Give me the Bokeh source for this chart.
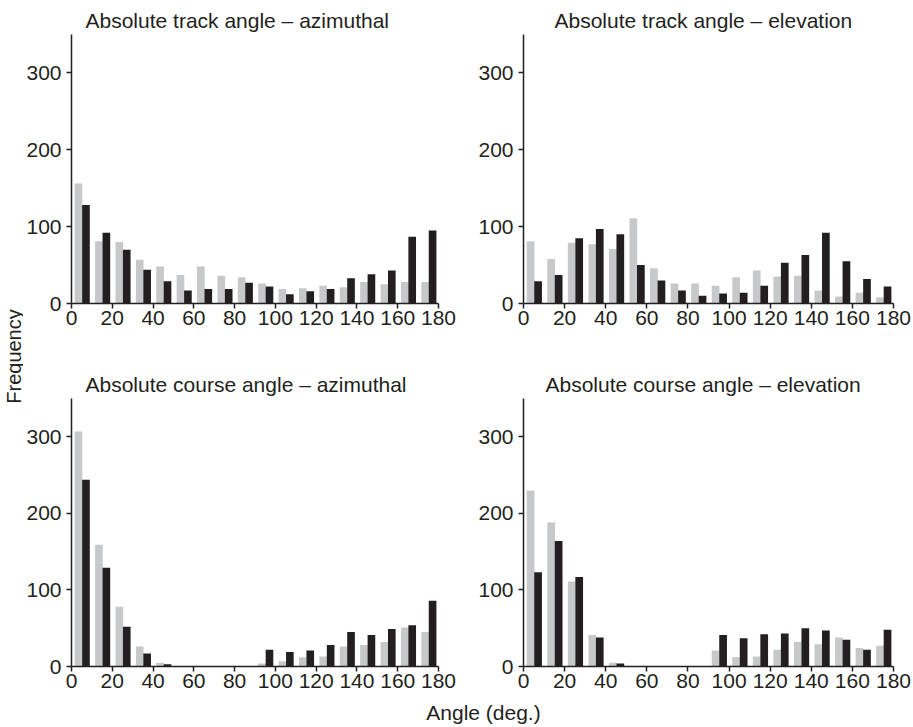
import math
from bokeh.plotting import figure
from bokeh.layouts import row, column
from bokeh.models import FixedTicker, Range1d
from bokeh.core.properties import value
from bokeh.embed import file_html
from bokeh.resources import INLINE

# ---------------- data ----------------
bin_left = [0, 10, 20, 30, 40, 50, 60, 70, 80, 90, 100, 110, 120, 130, 140, 150, 160, 170]
x_ticks = [0, 20, 40, 60, 80, 100, 120, 140, 160, 180]
y_ticks = [0, 100, 200, 300]

titles = [
    "Absolute track angle \u2013 azimuthal",
    "Absolute track angle \u2013 elevation",
    "Absolute course angle \u2013 azimuthal",
    "Absolute course angle \u2013 elevation",
]

track_az_light = [156, 81, 80, 57, 48, 37, 48, 36, 34, 26, 19, 20, 23, 21, 28, 25, 28, 28]
track_az_dark = [128, 92, 70, 44, 29, 17, 19, 19, 27, 22, 12, 16, 19, 33, 38, 43, 87, 95]

track_el_light = [81, 58, 79, 77, 71, 111, 46, 26, 26, 23, 34, 43, 35, 36, 17, 9, 14, 8]
track_el_dark = [29, 37, 85, 97, 90, 50, 30, 17, 10, 13, 14, 23, 53, 63, 92, 55, 32, 22]

course_az_light = [307, 159, 78, 26, 5, 0, 0, 0, 0, 4, 7, 12, 13, 26, 28, 32, 51, 45]
course_az_dark = [244, 129, 52, 17, 3, 0, 0, 0, 0, 22, 19, 21, 28, 45, 41, 49, 54, 86]

course_el_light = [230, 188, 111, 41, 5, 0, 0, 0, 0, 21, 12, 13, 22, 32, 29, 38, 24, 27]
course_el_dark = [123, 164, 117, 38, 4, 0, 0, 0, 0, 41, 37, 42, 43, 50, 47, 35, 22, 48]

# ---------------- style ----------------
GRAY = "#c7c8ca"
DARK = "#231f20"
FONT = "Liberation Sans"


def panel(title, light, dark, w, h, bl, br, bt, bb, offset):
    p = figure(width=w, height=h, x_range=Range1d(0, 180), y_range=Range1d(0, 350),
               output_backend="svg", toolbar_location=None,
               min_border_left=bl, min_border_right=br,
               min_border_top=bt, min_border_bottom=bb, title=title)
    p.vbar(x=[b + 3.45 for b in bin_left], width=3.75, top=light, bottom=0,
           fill_color=GRAY, line_color=None)
    p.vbar(x=[b + 7.1 for b in bin_left], width=3.75, top=dark, bottom=0,
           fill_color=DARK, line_color=None)
    p.title.text_font = FONT
    p.title.text_font_size = "21px"
    p.title.text_font_style = "normal"
    p.title.text_color = DARK
    p.title.align = "left"
    p.title.offset = offset
    p.title.standoff = 6
    p.xaxis.ticker = FixedTicker(ticks=x_ticks)
    p.yaxis.ticker = FixedTicker(ticks=y_ticks)
    for ax in (p.xaxis, p.yaxis):
        ax.axis_line_color = DARK
        ax.axis_line_width = 1.5
        ax.major_tick_line_color = DARK
        ax.major_tick_line_width = 1.5
        ax.major_tick_in = 0
        ax.major_tick_out = 5
        ax.minor_tick_line_color = None
        ax.major_label_text_font = FONT
        ax.major_label_text_font_size = "21px"
        ax.major_label_text_color = DARK
    p.xaxis.major_label_standoff = 2
    p.yaxis.major_label_standoff = 5
    p.grid.visible = False
    p.outline_line_color = None
    p.background_fill_color = "white"
    p.border_fill_color = "white"
    return p


LW = 23
p1 = panel(titles[0], track_az_light, track_az_dark, 462 - LW, 340, 69 - LW, 24, 34, 37, 14)
p2 = panel(titles[1], track_el_light, track_el_dark, 913 - 462, 340, 61, 20, 34, 37, 31)
p3 = panel(titles[2], course_az_light, course_az_dark, 462 - LW, 358, 69 - LW, 24, 58, 32, 14)
p4 = panel(titles[3], course_el_light, course_el_dark, 913 - 462, 358, 61, 20, 58, 32, 22)

left = figure(width=LW, height=698, x_range=Range1d(0, LW), y_range=Range1d(0, 698),
              output_backend="svg", toolbar_location=None, min_border=0,
              x_axis_type=None, y_axis_type=None)
left.text(x=[13], y=[698 - 356], text=["Frequency"], angle=math.pi / 2,
          text_align="center", text_baseline="middle", text_font=value(FONT),
          text_font_size="20px", text_color=DARK)
left.grid.visible = False
left.outline_line_color = None

bottom = figure(width=913, height=29, x_range=Range1d(0, 913), y_range=Range1d(0, 29),
                output_backend="svg", toolbar_location=None, min_border=0,
                x_axis_type=None, y_axis_type=None)
bottom.text(x=[483], y=[29 - (712 - 698)], text=["Angle (deg.)"],
            text_align="center", text_baseline="middle", text_font=value(FONT),
            text_font_size="21px", text_color=DARK)
bottom.grid.visible = False
bottom.outline_line_color = None

layout = column(row(left, column(row(p1, p2), row(p3, p4))), bottom)

open("out.html", "w").write(file_html(layout, INLINE))
